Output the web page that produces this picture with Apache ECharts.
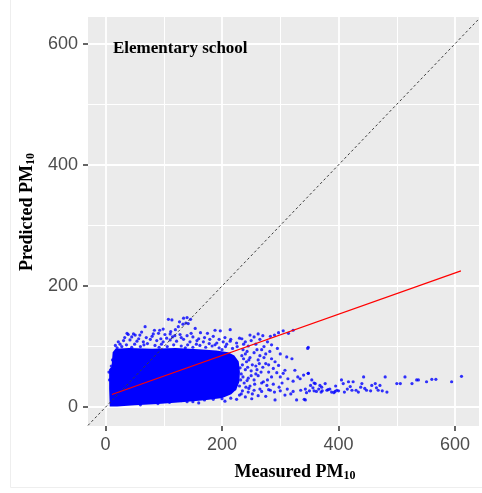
<!DOCTYPE html>
<html><head><meta charset="utf-8">
<script src="https://cdn.jsdelivr.net/npm/echarts@6/dist/echarts.min.js"></script>
<style>html,body{margin:0;padding:0;background:#fff}#c{width:482px;height:493px}</style>
</head><body><div id="c"></div>
<script>
// ---------- data ----------
const xTicks = [0, 200, 400, 600];
const yTicks = [0, 200, 400, 600];
const xRange = [-30, 641];
const yRange = [-31, 644];
const panelLabel = 'Elementary school';
const xTitle = 'Measured PM';
const yTitle = 'Predicted PM';
const titleSub = '10';

// 1:1 reference line and fitted regression line (measured, predicted)
const identityLine = [[-30, -30], [641, 641]];
const fitLine = [[11, 21], [610, 225]];

// outline of the saturated (fully overlapping) core of the point cloud
const denseCore = [[9,3],[8,30],[8,62],[12,66],[14,90],[18,95],[40,96],[80,95],[120,96],[160,94],[190,92],[210,89],[220,84],[227,75],[229,58],[228,42],[223,30],[215,23],[200,17],[170,13],[130,10],[90,7],[50,5],[20,3]];

// individual points visible outside the core
const upperPoints = [[108,145],[114,144],[134,147],[140,148],[146,145],[138,139],[142,138],[133,137],[127,141],
 [68,133],[125,133],[154,130],[188,127],[197,126],[214,128],[163,123],[175,122],[99,129],[93,127],
 [39,120],[48,121],[59,119],[82,121],[91,122],[102,120],[111,121],[119,118],[128,120],[37,122],[51,119],
 [31,110],[42,111],[54,109],[65,108],[77,112],[88,110],[99,108],[111,111],[122,109],[134,112],[145,108],[157,110],[168,108],[179,112],[191,106],[202,108],[214,109],[225,106],[237,104],
 [25,104],[36,103],[50,104],[60,100],[72,105],[85,102],[96,104],[106,100],[117,103],[130,101],[141,103],[150,99],[162,102],[172,99],[183,101],[195,98],[206,100],[218,97],
 [45,116],[70,115],[105,114],[150,116],[160,113],[185,117],[230,114],[205,115],[17,102],[20,98],[22,108],[28,100],
 [33,115],[57,113],[80,117],[95,113],[115,116],[130,115],[140,118],[170,115],[195,112],[215,112],[226,100],[112,125],[120,128],[147,122],[84,127],[62,124],[178,105],[188,103],[208,104],[45,99],[66,103],[92,99],[137,98],[156,104],[200,95]];

const rightPoints = [[262,121],[297,123],[305,126],[322,127],[314,122],[248,119],[234,113],[255,116],[270,118],[283,117],[290,119],[240,108],[250,110],[265,112],[278,108],[245,101],[258,104],[272,100],[285,103],[295,97],[260,95],
 [347,97],[311,83],[320,80],[291,75],[297,69],[308,61],[305,56],[325,61],[334,47],[348,56],[280,58],[285,50],[313,47],[322,43],[330,50],[271,42],[277,36],
 [240,88],[248,82],[255,90],[265,85],[275,88],[285,80],[242,75],[252,70],[262,78],[270,66],[250,60],[258,55],[240,62],[245,48],[255,45],[262,52],[238,40],[248,35],[265,30],[275,72],[282,92],[268,95],[300,88],
 [236,95],[243,92],[234,85],[246,78],[235,70],[244,66],[233,55],[250,52],[243,44],[256,38],[260,62],[267,58],[272,82],[280,70],[288,64],[294,57],[300,50],[278,45],[268,40],[283,28],[252,22],[246,31],[258,68],[264,72],[236,50],[241,33],[233,22],[231,65],[232,45],[230,35],[237,80],
 [222,30],[235,27],[245,25],[255,28],[268,26],[280,29],[290,25],[300,27],[312,30],[322,26],[335,28],[345,24],[358,27],[370,25],[382,29],[394,26],
 [240,17],[251,14],[262,19],[308,20],[328,12],[343,12],[291,12],[275,18],[230,20],[318,22],[298,33],[288,38],[303,40]];

const tailPoints = [[340,53],[348,56],[354,45],[360,39],[368,36],[377,39],[380,28],[388,25],[397,28],[405,45],[408,39],[417,42],[423,28],[425,42],[434,25],[440,39],[443,50],[448,28],[457,36],[463,39],[468,28],[471,36],[480,50],[483,25],[341,13],[500,39],[506,39],[514,50],[526,39],[534,45],[537,45],[551,42],[560,46],[567,46],[594,42],[611,51],[348,99],
 [343,30],[350,27],[356,32],[362,26],[366,30],[372,27],[385,30],[392,24],[400,27],[410,25],[415,30],[430,28],[445,31],[455,27],[475,27],[352,36],[358,40],[371,33],[395,35],[420,34],[438,33],[465,32]];

const lowerPoints = [[60,4],[110,8],[130,11],[150,9],[170,12],[185,13],[200,14],[215,15],[225,13],[160,7],[90,6],[205,10],[140,9],[7,45],[6,58],[10,68],[12,78]];

// ---------- layout ----------
const W = 482, H = 493;
const P = {left: 88, right: 479, top: 17, bottom: 426};
const pxX = v => P.left + (v - xRange[0]) / (xRange[1] - xRange[0]) * (P.right - P.left);
const pxY = v => P.bottom - (v - yRange[0]) / (yRange[1] - yRange[0]) * (P.bottom - P.top);

const tickLabel = {color: '#4D4D4D', fontSize: 18, fontFamily: '"Liberation Sans", Arial, sans-serif', margin: 10};
const tickStyle = {show: true, length: 5, lineStyle: {color: '#333333', width: 1.5}};
const major = {show: true, lineStyle: {color: '#FFFFFF', width: 1.8}};
const minor = {show: true, lineStyle: {color: '#FFFFFF', width: 1}};
const serif = '"Liberation Serif", "Times New Roman", serif';
const richTitle = {
  m: {fontFamily: serif, fontWeight: 'bold', fontSize: 18, lineHeight: 20, color: '#000'},
  s: {fontFamily: serif, fontWeight: 'bold', fontSize: 12, lineHeight: 10, verticalAlign: 'bottom', color: '#000'}
};

const chart = echarts.init(document.getElementById('c'), null, {renderer: 'canvas'});
const pointStyle = {color: '#0000FF'};
const pointSeries = [upperPoints, rightPoints, tailPoints, lowerPoints].map(d => ({
  type: 'scatter', xAxisIndex: 0, yAxisIndex: 0, data: d, symbolSize: 3.2,
  itemStyle: pointStyle, z: 3, silent: true
}));

chart.setOption({
  animation: false,
  backgroundColor: '#FFFFFF',
  grid: [
    {left: P.left, right: W - P.right, top: P.top, bottom: H - P.bottom, show: true, backgroundColor: '#EBEBEB', borderWidth: 0, z: 0},
    {left: pxX(xTicks[0]), right: W - pxX(xTicks[xTicks.length - 1]), top: P.top, bottom: H - P.bottom, z: 0},
    {left: P.left, right: W - P.right, top: pxY(yTicks[yTicks.length - 1]), bottom: H - pxY(yTicks[0]), z: 0}
  ],
  xAxis: [
    {gridIndex: 0, type: 'value', min: xRange[0], max: xRange[1], show: false},
    {gridIndex: 1, type: 'value', min: xTicks[0], max: xTicks[xTicks.length - 1], interval: xTicks[1] - xTicks[0], z: 1,
     axisLine: {show: false}, axisTick: tickStyle, axisLabel: tickLabel,
     splitLine: major, minorTick: {show: false, splitNumber: 2}, minorSplitLine: minor},
    {gridIndex: 2, type: 'value', min: 0, max: 1, show: false}
  ],
  yAxis: [
    {gridIndex: 0, type: 'value', min: yRange[0], max: yRange[1], show: false},
    {gridIndex: 1, type: 'value', min: 0, max: 1, show: false},
    {gridIndex: 2, type: 'value', min: yTicks[0], max: yTicks[yTicks.length - 1], interval: yTicks[1] - yTicks[0], z: 1,
     axisLine: {show: false}, axisTick: tickStyle, axisLabel: tickLabel,
     splitLine: major, minorTick: {show: false, splitNumber: 2}, minorSplitLine: minor}
  ],
  series: [
    {type: 'custom', xAxisIndex: 0, yAxisIndex: 0, data: [[0, 0]], z: 2, silent: true, clip: true,
     renderItem: (params, api) => ({
       type: 'polygon',
       shape: {points: denseCore.map(p => api.coord(p))},
       style: {fill: '#0000FF', stroke: '#0000FF', lineWidth: 2}
     })},
    ...pointSeries,
    {type: 'line', xAxisIndex: 0, yAxisIndex: 0, data: identityLine, symbol: 'none', z: 4, silent: true,
     lineStyle: {color: '#3A3A3A', width: 1, type: [2.5, 2.5]}},
    {type: 'line', xAxisIndex: 0, yAxisIndex: 0, data: fitLine, symbol: 'none', z: 5, silent: true,
     lineStyle: {color: '#FF0000', width: 1.2}}
  ],
  graphic: [
    {type: 'rect', silent: true, z: -10, shape: {x: 10.5, y: -1, width: 480, height: 488.5},
     style: {fill: 'none', stroke: '#EEEEEE', lineWidth: 1}},
    {type: 'text', silent: true, z: 100, x: 113, y: 48.5,
     style: {text: panelLabel, fontFamily: serif, fontWeight: 'bold', fontSize: 17, fill: '#000', verticalAlign: 'middle'}},
    {type: 'text', silent: true, z: 100, x: 295, y: 472,
     style: {text: '{m|' + xTitle + '}{s|' + titleSub + '}', rich: richTitle, align: 'center', verticalAlign: 'middle'}},
    {type: 'text', silent: true, z: 100, x: 27, y: 212, rotation: Math.PI / 2,
     style: {text: '{m|' + yTitle + '}{s|' + titleSub + '}', rich: richTitle, align: 'center', verticalAlign: 'middle'}}
  ]
});
</script>
</body></html>
